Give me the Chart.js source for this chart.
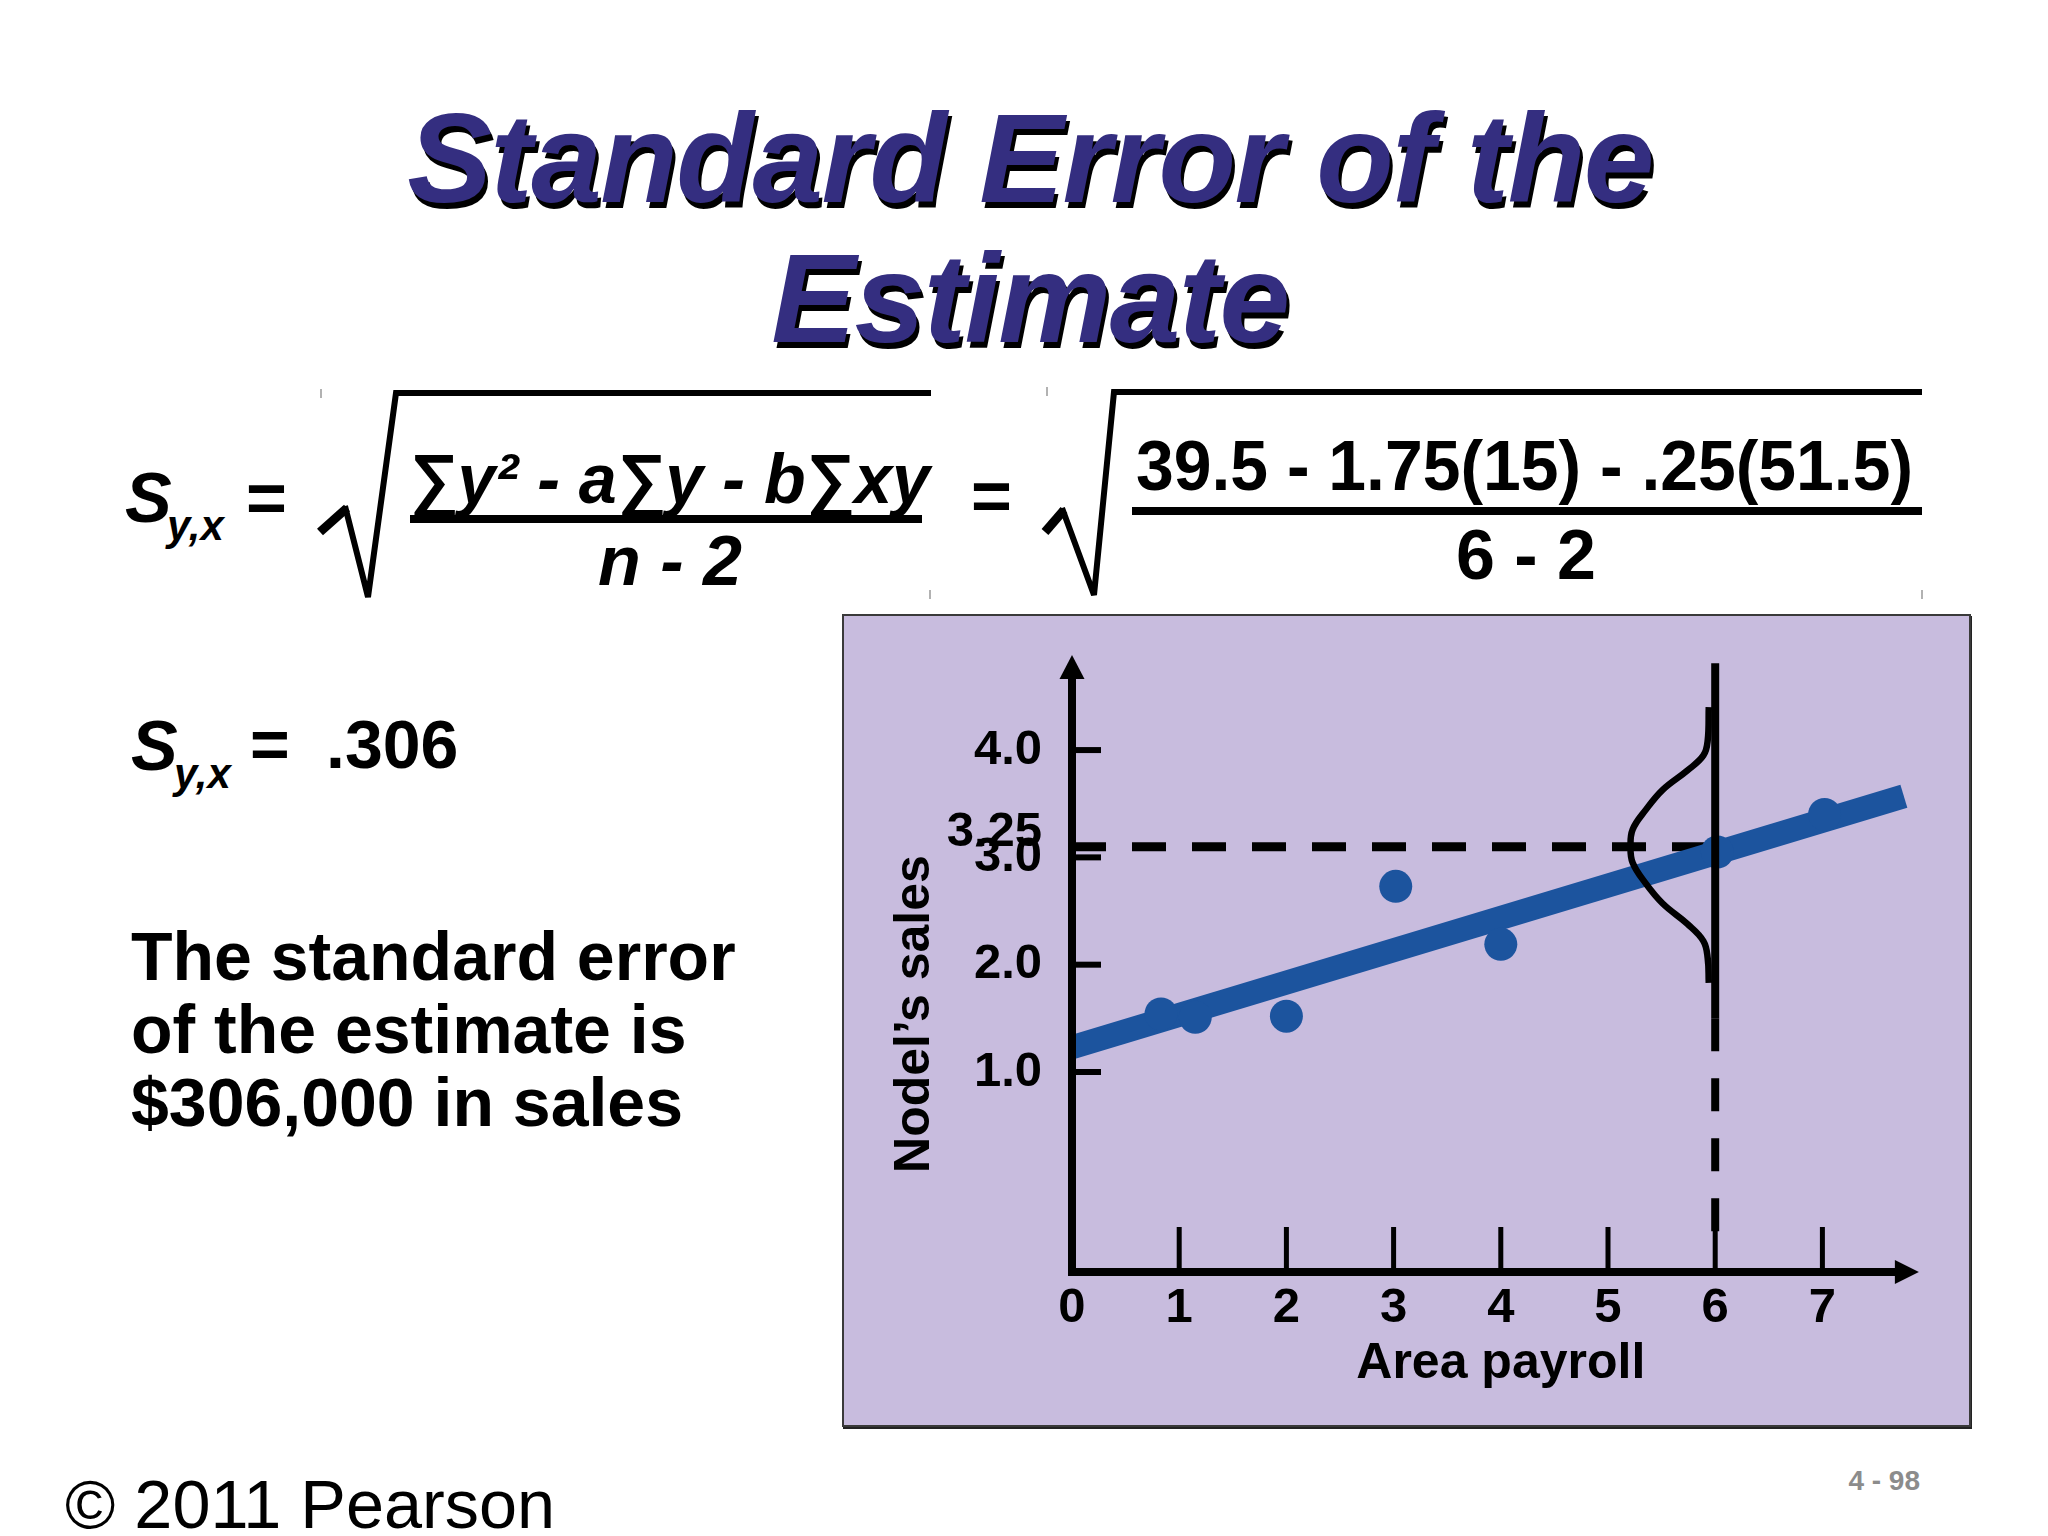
<!DOCTYPE html>
<html>
<head>
<meta charset="utf-8">
<script src="https://cdn.jsdelivr.net/npm/chart.js@4/dist/chart.umd.min.js"></script>
<style>
  html, body { margin: 0; padding: 0; background: #ffffff; }
  body { width: 2048px; height: 1536px; position: relative; overflow: hidden; font-family: "Liberation Sans", Arial, sans-serif; }
  .title { position: absolute; left: 0; width: 2060px; text-align: center; font-weight: bold; font-style: italic;
           font-size: 127px; line-height: 140px; color: #342e80; letter-spacing: -1.5px;
           text-shadow: 3px 6px 0 #000; white-space: nowrap; }
  #panel { position: absolute; left: 842px; top: 614px; width: 1129px; height: 813px; box-sizing: border-box;
           background: rgb(200,188,222); border: 2px solid #3a3a3a; box-shadow: 1px 2px 0 #222; }
  #chartWrap { position: absolute; left: 842px; top: 614px; width: 1129px; height: 813px; }
  svg#txt { position: absolute; left: 0; top: 0; }
</style>
</head>
<body>
<div class="title" style="top:88px;">Standard Error of the</div>
<div class="title" style="top:228px;">Estimate</div>

<svg id="txt" width="2048" height="1536" xmlns="http://www.w3.org/2000/svg" font-family="Liberation Sans, Arial, sans-serif">
  <!-- first formula -->
  <text x="125" y="522" font-size="70" font-weight="bold" font-style="italic">S</text>
  <text x="167" y="540" font-size="42" font-weight="bold" font-style="italic">y,x</text>
  <text x="246" y="522" font-size="70" font-weight="bold">=</text>
  <path d="M320,532 L347,508" stroke="#000" stroke-width="9" fill="none"/>
  <path d="M345,506 L368,597 L396,393 H931" stroke="#000" stroke-width="6" fill="none" stroke-linejoin="miter"/>
  <text x="409" y="503" font-size="70" font-weight="bold" font-style="italic" textLength="521" lengthAdjust="spacingAndGlyphs">∑y² - a∑y - b∑xy</text>
  <rect x="410" y="515" width="512" height="8" fill="#000"/>
  <text x="598" y="585" font-size="70" font-weight="bold" font-style="italic">n - 2</text>
  <line x1="321" y1="389" x2="321" y2="398" stroke="#999" stroke-width="1.5"/>
  <line x1="930" y1="590" x2="930" y2="599" stroke="#999" stroke-width="1.5"/>

  <!-- second formula -->
  <text x="971" y="520" font-size="70" font-weight="bold">=</text>
  <path d="M1045,532 L1064,510" stroke="#000" stroke-width="9" fill="none"/>
  <path d="M1062,508 L1094,595 L1114,392 H1922" stroke="#000" stroke-width="6" fill="none" stroke-linejoin="miter"/>
  <text x="1136" y="490" font-size="70" font-weight="bold" textLength="777" lengthAdjust="spacingAndGlyphs">39.5 - 1.75(15) - .25(51.5)</text>
  <rect x="1132" y="507" width="790" height="8" fill="#000"/>
  <text x="1526" y="579" font-size="70" font-weight="bold" text-anchor="middle">6 - 2</text>
  <line x1="1047" y1="387" x2="1047" y2="396" stroke="#999" stroke-width="1.5"/>
  <line x1="1922" y1="590" x2="1922" y2="599" stroke="#999" stroke-width="1.5"/>

  <!-- result -->
  <text x="131" y="770" font-size="70" font-weight="bold" font-style="italic">S</text>
  <text x="174" y="788" font-size="42" font-weight="bold" font-style="italic">y,x</text>
  <text x="250" y="768" font-size="68" font-weight="bold">=</text>
  <text x="326" y="768" font-size="68" font-weight="bold">.306</text>

  <text x="131" y="980" font-size="68" font-weight="bold">The standard error</text>
  <text x="131" y="1053" font-size="68" font-weight="bold">of the estimate is</text>
  <text x="131" y="1126" font-size="68" font-weight="bold">$306,000 in sales</text>

  <text x="65" y="1528" font-size="69" textLength="490" lengthAdjust="spacingAndGlyphs">© 2011 Pearson</text>
  <text x="1920" y="1490" font-size="28" font-weight="bold" fill="#8c8c8c" text-anchor="end">4 - 98</text>
</svg>

<div id="panel"></div>
<div id="chartWrap"><canvas id="c" width="1129" height="813"></canvas></div>

<script>
// ---- data ----
const payrollX = [0.83, 1.15, 2.0, 3.02, 4.0, 6.02, 7.02];
const salesY   = [1.54, 1.51, 1.52, 2.73, 2.19, 3.05, 3.40];

const regressionX = [0, 7.76];
const regressionY = [1.23, 3.57];

const xTickValues = [1, 2, 3, 4, 5, 6, 7];
const xTickLabels = ['0', '1', '2', '3', '4', '5', '6', '7'];
const xLabelValues = [0, 1, 2, 3, 4, 5, 6, 7];
const yTickValues = [1, 2, 3, 4];
const yTickLabels = ['1.0', '2.0', '3.0', '4.0'];

const estimateX = 6;
const estimateY = 3.10;
const estimateLabel = '3.25';

// normal curve drawn around the estimate
const curveX = [5.94, 5.93, 5.89, 5.74, 5.51, 5.35, 5.23, 5.21, 5.23, 5.35, 5.51, 5.74, 5.89, 5.93, 5.94];
const curveY = [4.40, 4.09, 3.95, 3.81, 3.63, 3.44, 3.26, 3.10, 2.95, 2.76, 2.57, 2.38, 2.22, 2.06, 1.83];

const verticalSolidY = [4.81, 1.50];
const verticalDashedY = [1.50, -0.68];

const xAxisTitle = 'Area payroll';
const yAxisTitle = 'Nodel\u2019s sales';

const xMin = 0, xMax = 8.0, xArrow = 7.90;
const yMin = -0.864, yMax = 4.9, yArrow = 4.886;

// ---- helpers ----
const pts = (xs, ys) => xs.map((v, i) => ({x: v, y: ys[i]}));
const BLUE = 'rgb(28,84,158)';

const axesPlugin = {
  id: 'axesPlugin',
  afterDatasetsDraw(chart) {
    const {ctx, scales: {x, y}} = chart;
    const ox = x.getPixelForValue(0);
    const oy = y.getPixelForValue(yMin);
    ctx.save();
    ctx.strokeStyle = '#000';
    ctx.fillStyle = '#000';
    ctx.lineCap = 'butt';

    // y axis
    const yTip = y.getPixelForValue(yArrow);
    ctx.lineWidth = 8;
    ctx.beginPath(); ctx.moveTo(ox, oy + 4); ctx.lineTo(ox, yTip + 20); ctx.stroke();
    ctx.beginPath(); ctx.moveTo(ox, yTip); ctx.lineTo(ox - 12.5, yTip + 24); ctx.lineTo(ox + 12.5, yTip + 24); ctx.closePath(); ctx.fill();

    // x axis
    const xTip = x.getPixelForValue(xArrow);
    ctx.beginPath(); ctx.moveTo(ox - 4, oy); ctx.lineTo(xTip - 20, oy); ctx.stroke();
    ctx.beginPath(); ctx.moveTo(xTip, oy); ctx.lineTo(xTip - 24, oy - 12); ctx.lineTo(xTip - 24, oy + 12); ctx.closePath(); ctx.fill();

    // y ticks
    ctx.lineWidth = 6;
    yTickValues.forEach(v => {
      const py = y.getPixelForValue(v);
      ctx.beginPath(); ctx.moveTo(ox, py); ctx.lineTo(ox + 29, py); ctx.stroke();
    });
    // x ticks
    ctx.lineWidth = 5;
    xTickValues.forEach(v => {
      const px = x.getPixelForValue(v);
      ctx.beginPath(); ctx.moveTo(px, oy); ctx.lineTo(px, oy - 45); ctx.stroke();
    });

    // tick labels
    ctx.font = 'bold 49px "Liberation Sans", Arial, sans-serif';
    ctx.textAlign = 'right';
    ctx.textBaseline = 'middle';
    yTickValues.forEach((v, i) => {
      ctx.fillText(yTickLabels[i], ox - 30, y.getPixelForValue(v));
    });
    ctx.fillText(estimateLabel, ox - 30, y.getPixelForValue(estimateY) - 14);

    ctx.textAlign = 'center';
    xLabelValues.forEach((v, i) => {
      ctx.fillText(xTickLabels[i], x.getPixelForValue(v), oy + 36);
    });

    // axis titles
    ctx.font = 'bold 50px "Liberation Sans", Arial, sans-serif';
    ctx.textBaseline = 'alphabetic';
    ctx.fillText(xAxisTitle, x.getPixelForValue(4.0), oy + 106);

    ctx.save();
    ctx.translate(ox - 157, y.getPixelForValue(1.54));
    ctx.rotate(-Math.PI / 2);
    ctx.textBaseline = 'middle';
    ctx.fillText(yAxisTitle, 0, 0);
    ctx.restore();

    ctx.restore();
  }
};

new Chart(document.getElementById('c'), {
  type: 'scatter',
  data: {
    datasets: [
      { // vertical solid line at x = 6
        data: pts([estimateX, estimateX], verticalSolidY),
        showLine: true, borderColor: '#000', borderWidth: 8, pointRadius: 0, order: 0
      },
      { // normal curve
        data: pts(curveX, curveY),
        showLine: true, borderColor: '#000', borderWidth: 6.5, pointRadius: 0, tension: 0.4, order: 1
      },
      { // observations
        data: pts(payrollX, salesY),
        backgroundColor: BLUE, borderColor: BLUE, borderWidth: 0, pointRadius: 16.5, order: 2
      },
      { // regression line
        data: pts(regressionX, regressionY),
        showLine: true, borderColor: BLUE, borderWidth: 24, pointRadius: 0, borderCapStyle: 'butt',
        clip: {left: 0, top: false, right: false, bottom: false}, order: 3
      },
      { // dashed vertical below
        data: pts([estimateX, estimateX], verticalDashedY),
        showLine: true, borderColor: '#000', borderWidth: 8, borderDash: [33, 27], pointRadius: 0, order: 4
      },
      { // dashed horizontal at estimate
        data: pts([0, estimateX], [estimateY, estimateY]),
        showLine: true, borderColor: '#000', borderWidth: 9, borderDash: [34, 26], pointRadius: 0,
        clip: {left: 0, top: false, right: false, bottom: false}, order: 5
      }
    ]
  },
  options: {
    responsive: false,
    animation: false,
    devicePixelRatio: 1,
    events: [],
    layout: { padding: { left: 230, right: 41.4, top: 39.5, bottom: 155 } },
    plugins: { legend: { display: false }, tooltip: { enabled: false } },
    scales: {
      x: { type: 'linear', min: xMin, max: xMax, display: false },
      y: { type: 'linear', min: yMin, max: yMax, display: false }
    }
  },
  plugins: [axesPlugin]
});
</script>
</body>
</html>
